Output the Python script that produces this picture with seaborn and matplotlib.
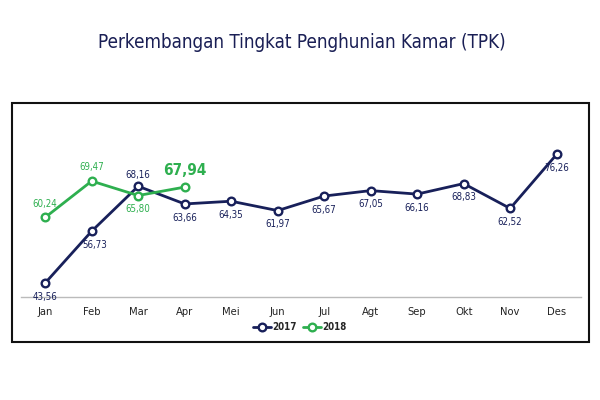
import numpy as np
import pandas as pd
import matplotlib
matplotlib.use("Agg")
import matplotlib.pyplot as plt
from matplotlib.patches import Rectangle
import seaborn as sns

months = ["Jan", "Feb", "Mar", "Apr", "Mei", "Jun", "Jul", "Agt", "Sep", "Okt", "Nov", "Des"]
tpk_2017 = [43.56, 56.73, 68.16, 63.66, 64.35, 61.97, 65.67, 67.05, 66.16, 68.83, 62.52, 76.26]
tpk_2018 = [60.24, 69.47, 65.80, 67.94]

navy = "#18205a"
green = "#2eaf4f"

sns.set_theme(style="white")
plt.rcParams["font.family"] = ["DejaVu Sans"]
plt.rcParams["font.stretch"] = "condensed"

df = pd.concat([
    pd.DataFrame({"pos": range(len(tpk_2017)), "TPK": tpk_2017, "Tahun": "2017"}),
    pd.DataFrame({"pos": range(len(tpk_2018)), "TPK": tpk_2018, "Tahun": "2018"}),
])

fig = plt.figure(figsize=(6, 4), dpi=100)
ax = fig.add_axes([0.035, 0.2575, 0.933, 0.4425])

sns.lineplot(
    data=df, x="pos", y="TPK", hue="Tahun", palette={"2017": navy, "2018": green},
    marker="o", markersize=5.5, markerfacecolor="white", markeredgewidth=1.7,
    linewidth=2, ax=ax,
)
for line in ax.lines:
    line.set_markeredgecolor(line.get_color())

ax.set_xlim(-0.52, 11.52)
ax.set_ylim(40, 85)
ax.set_xticks(range(len(months)))
ax.set_xticklabels(months, fontsize=8, color="#222222")
ax.set_yticks([])
ax.set_xlabel("")
ax.set_ylabel("")
for s in ["top", "left", "right"]:
    ax.spines[s].set_visible(False)
ax.spines["bottom"].set_color("#bbbbbb")
ax.spines["bottom"].set_linewidth(1)
ax.tick_params(axis="x", length=0, pad=7)

def fmt(v):
    return f"{v:.2f}".replace(".", ",")

# label offsets (points)
off17 = [(0, -10), (2, -10), (0, 8), (0, -10), (0, -10), (0, -10),
         (0, -10), (0, -10), (0, -10), (0, -10), (0, -10), (0, -10)]
for i, v in enumerate(tpk_2017):
    dx, dy = off17[i]
    ax.annotate(fmt(v), (i, v), xytext=(dx, dy), textcoords="offset points",
                ha="center", va="center", fontsize=7, color=navy)

off18 = [(0, 10), (0, 10), (0, -10)]
for i, v in enumerate(tpk_2018[:3]):
    dx, dy = off18[i]
    ax.annotate(fmt(v), (i, v), xytext=(dx, dy), textcoords="offset points",
                ha="center", va="center", fontsize=7, color=green)
ax.annotate(fmt(tpk_2018[3]), (3, tpk_2018[3]), xytext=(0, 12), textcoords="offset points",
            ha="center", va="center", fontsize=11, fontweight="bold", color=green)

handles, labels = ax.get_legend_handles_labels()
ax.legend(handles, labels, loc="center", bbox_to_anchor=(0.5, 1 - 327 / 400),
          bbox_transform=fig.transFigure, ncol=2, frameon=False,
          prop={"weight": "bold", "size": 7, "stretch": "condensed"},
          handlelength=1.8, handletextpad=0.2, columnspacing=0.6)

fig.patches.append(Rectangle((12 / 600, 1 - 342 / 400), 577 / 600, 239 / 400,
                             transform=fig.transFigure, fill=False,
                             edgecolor="#111111", linewidth=1.5))

fig.text(0.503, 1 - 42 / 400, "Perkembangan Tingkat Penghunian Kamar (TPK)",
         ha="center", va="center", fontsize=13.5, color="#1a1f55")

fig.savefig("out.png", dpi=100)
